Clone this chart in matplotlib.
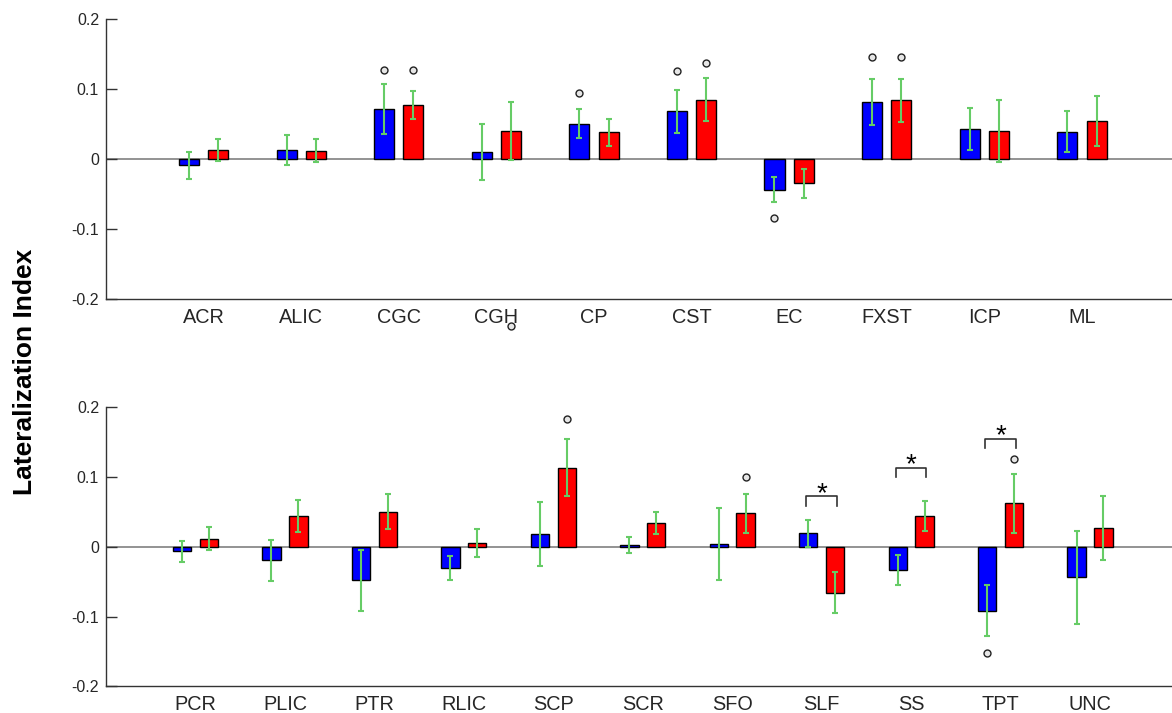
import numpy as np
import matplotlib
matplotlib.use('Agg')
import matplotlib.pyplot as plt

plt.rcParams['font.family'] = ['Liberation Sans', 'DejaVu Sans']

# Top panel data
top_labels = ['ACR', 'ALIC', 'CGC', 'CGH', 'CP', 'CST', 'EC', 'FXST', 'ICP', 'ML']
top_blue = [-0.009, 0.0125, 0.071, 0.0095, 0.0505, 0.068, -0.044, 0.082, 0.0425, 0.039]
top_red = [0.013, 0.012, 0.077, 0.040, 0.038, 0.085, -0.035, 0.084, 0.040, 0.0545]
top_blue_err = [0.019, 0.0217, 0.036, 0.040, 0.021, 0.031, 0.018, 0.033, 0.030, 0.029]
top_red_err = [0.0155, 0.0165, 0.0205, 0.041, 0.0195, 0.031, 0.0205, 0.031, 0.0446, 0.036]
# outlier circles: category, series (0 blue, 1 red), value
top_circ_cat = ['CGC', 'CGC', 'CGH', 'CP', 'CST', 'CST', 'EC', 'FXST', 'FXST']
top_circ_ser = [0, 1, 1, 0, 0, 1, 0, 0, 1]
top_circ_val = [0.127, 0.127, -0.2385, 0.094, 0.1255, 0.138, -0.084, 0.1465, 0.1465]

# Bottom panel data
bot_labels = ['PCR', 'PLIC', 'PTR', 'RLIC', 'SCP', 'SCR', 'SFO', 'SLF', 'SS', 'TPT', 'UNC']
bot_blue = [-0.0065, -0.019, -0.048, -0.0305, 0.018, 0.003, 0.0037, 0.0196, -0.033, -0.0915, -0.0435]
bot_red = [0.0115, 0.0445, 0.050, 0.0055, 0.1135, 0.034, 0.048, -0.0656, 0.0445, 0.0627, 0.0268]
bot_blue_err = [0.0146, 0.0294, 0.044, 0.0177, 0.046, 0.0113, 0.052, 0.0193, 0.0218, 0.0368, 0.0665]
bot_red_err = [0.0162, 0.023, 0.025, 0.020, 0.0404, 0.0155, 0.0278, 0.030, 0.0217, 0.0423, 0.0457]
bot_circ_cat = ['SCP', 'SFO', 'TPT', 'TPT']
bot_circ_ser = [1, 1, 0, 1]
bot_circ_val = [0.1836, 0.1004, -0.1517, 0.1253]
# significance brackets (bracket top level)
star_cat = ['SLF', 'SS', 'TPT']
star_val = [0.0722, 0.1133, 0.155]

off = 0.15
bw = 0.205
blue = '#0000ff'
red = '#ff0000'
green = '#66cc66'
axcol = '#333333'


def draw_panel(ax, labels, b, r, be, re, ccat, cser, cval, scat=None, sval=None):
    n = len(labels)
    x = np.arange(1, n + 1)
    ax.bar(x - off, b, bw, color=blue, edgecolor='black', linewidth=1.0, zorder=2)
    ax.bar(x + off, r, bw, color=red, edgecolor='black', linewidth=1.0, zorder=2)
    ax.errorbar(x - off, b, yerr=be, fmt='none', ecolor=green, elinewidth=1.5,
                capsize=2.5, capthick=1.5, zorder=3)
    ax.errorbar(x + off, r, yerr=re, fmt='none', ecolor=green, elinewidth=1.5,
                capsize=2.5, capthick=1.5, zorder=3)
    ax.axhline(0, color='#808080', linewidth=1.2, zorder=1)

    cx = [labels.index(c) + 1 + (off if s else -off) for c, s in zip(ccat, cser)]
    ax.plot(cx, cval, 'o', markersize=5, markerfacecolor='#e6e6e6',
            markeredgecolor='#222222', markeredgewidth=1.0, linestyle='none',
            clip_on=False, zorder=4)

    if scat:
        for c, v in zip(scat, sval):
            xc = labels.index(c) + 1
            x0, x1 = xc - off - 0.02, xc + off + 0.02
            ax.plot([x0, x0, x1, x1], [v - 0.0135, v, v, v - 0.0135],
                    color='#333333', linewidth=1.2, zorder=4)
            ax.text(xc, v + 0.0035, '*', ha='center', va='center', fontsize=20,
                    color='black')

    ax.set_xlim(0, n + 1)
    ax.set_ylim(-0.2, 0.2)
    ax.set_yticks([-0.2, -0.1, 0, 0.1, 0.2])
    ax.set_yticklabels(['-0.2', '-0.1', '0', '0.1', '0.2'])
    ax.set_xticks(x)
    ax.set_xticklabels(labels, fontsize=14.3, color='#262626')
    ax.tick_params(axis='y', direction='in', length=8, width=1.0, color=axcol,
                   labelsize=11.5, labelcolor='#262626', pad=5)
    ax.tick_params(axis='x', length=0, pad=6.5)
    for s in ['top', 'right']:
        ax.spines[s].set_visible(False)
    for s in ['left', 'bottom']:
        ax.spines[s].set_color(axcol)
        ax.spines[s].set_linewidth(1.0)


fig = plt.figure(figsize=(11.72, 7.13), dpi=100)
left = 106 / 1172
width = (1179.5 - 106) / 1172
ax1 = fig.add_axes([left, 1 - 298.7 / 713, width, 279.5 / 713])
ax2 = fig.add_axes([left, 1 - 686.3 / 713, width, 279.0 / 713])

draw_panel(ax1, top_labels, top_blue, top_red, top_blue_err, top_red_err,
           top_circ_cat, top_circ_ser, top_circ_val)
draw_panel(ax2, bot_labels, bot_blue, bot_red, bot_blue_err, bot_red_err,
           bot_circ_cat, bot_circ_ser, bot_circ_val, star_cat, star_val)

fig.text(25 / 1172, 1 - 372 / 713, 'Lateralization Index', rotation=90,
         ha='center', va='center', fontsize=19, fontweight='bold')

fig.savefig('out.png', dpi=100)
